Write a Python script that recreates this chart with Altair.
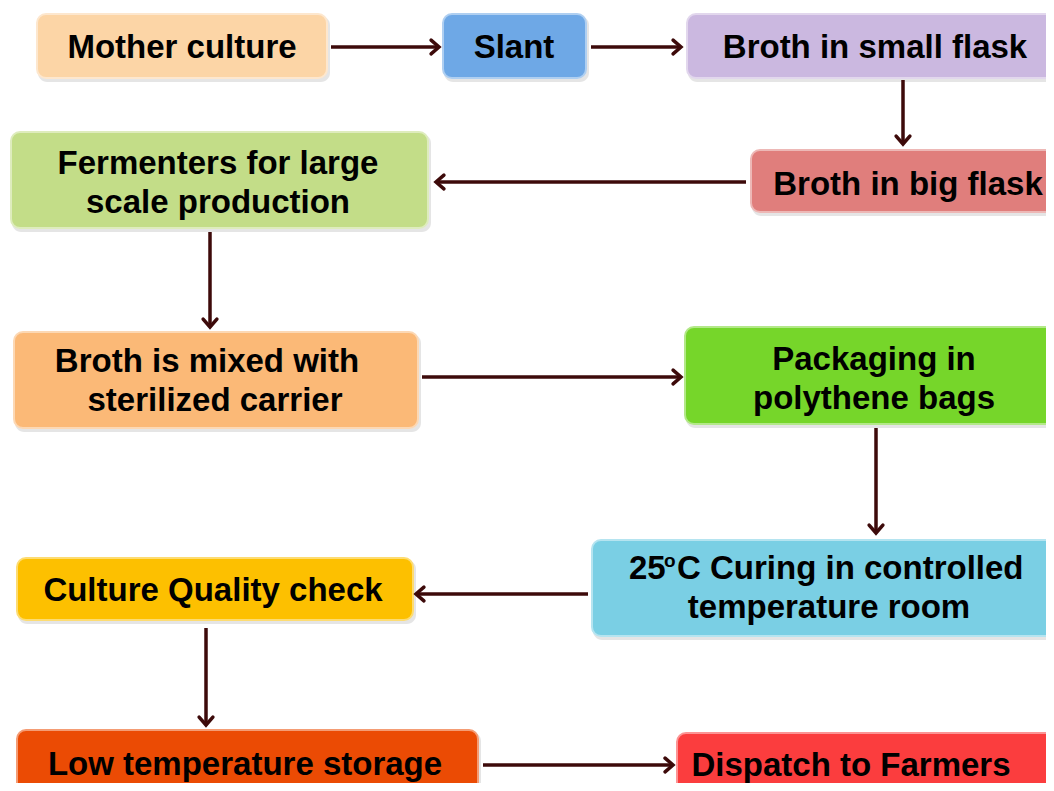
import altair as alt
import pandas as pd

# ---- boxes ----
box_names = ["Mother culture", "Slant", "Broth in small flask", "Broth in big flask",
             "Fermenters", "Broth mixed", "Packaging", "Curing", "Quality check",
             "Low temperature storage", "Dispatch to Farmers"]
box_x1 = [37, 443, 687, 751, 11, 14, 685, 592, 17, 17, 677]
box_x2 = [327, 586, 1060, 1060, 428, 418, 1060, 1060, 413, 478, 1060]
box_y1 = [14, 14, 14, 150, 132, 332, 327, 540, 558, 730, 733]
box_y2 = [78, 78, 78, 212, 228, 428, 424, 636, 620, 800, 800]
box_fill = ["#FCD5A6", "#6EA8E6", "#CBB8E0", "#E07E7C", "#C3DD88", "#FBB977",
            "#76D62A", "#7ACFE4", "#FDC000", "#EB4B04", "#FB3D3E"]

# ---- text lines (centered) ----
line_text = ["Mother culture", "Slant", "Broth in small flask", "Broth in big flask",
             "Fermenters for large", "scale production",
             "Broth is mixed with", "sterilized carrier",
             "Packaging in", "polythene bags",
             "temperature room",
             "Culture Quality check",
             "Low temperature storage", "Dispatch to Farmers"]
line_x = [182, 514, 875, 908, 218, 218, 207, 215, 874, 874, 829, 213, 245, 851]
line_y = [58, 58, 58, 195, 174, 213, 372, 411, 370, 409, 618, 601, 775, 776]

# ---- "25oC Curing in controlled" pieces (left aligned) ----
piece_text = ["25", "o", "C Curing in controlled"]
piece_x = [629, 664, 677]
piece_y = [579, 567, 579]
piece_size = [33, 19, 33]

# ---- arrows ----
arrow_x1 = [331, 591, 903, 746, 210, 422, 876, 588, 206, 483]
arrow_y1 = [47, 47, 80, 182, 232, 377, 428, 594, 628, 765]
arrow_x2 = [439, 681, 903, 436, 210, 681, 876, 416, 206, 673]
arrow_y2 = [47, 47, 144, 182, 327, 377, 533, 594, 725, 765]
arrow_angle = [0, 0, 90, 180, 90, 0, 90, 180, 90, 0]


def lighten(hex_color, f=0.45):
    h = hex_color.lstrip("#")
    r, g, b = (int(h[i:i + 2], 16) for i in (0, 2, 4))
    r, g, b = (int(c + (255 - c) * f) for c in (r, g, b))
    return f"#{r:02X}{g:02X}{b:02X}"


boxes = pd.DataFrame({"name": box_names, "x1": box_x1, "x2": box_x2,
                      "y1": box_y1, "y2": box_y2, "fill": box_fill,
                      "stroke": [lighten(c) for c in box_fill]})
lines = pd.DataFrame({"text": line_text, "x": line_x, "y": line_y})
pieces = pd.DataFrame({"text": piece_text, "x": piece_x, "y": piece_y, "size": piece_size})
arrows = pd.DataFrame({"x1": arrow_x1, "y1": arrow_y1, "x2": arrow_x2,
                       "y2": arrow_y2, "angle": arrow_angle})

W, H = 1038, 775
xs = alt.Scale(domain=[8, 8 + W], nice=False, zero=False)
ys = alt.Scale(domain=[8, 8 + H], nice=False, zero=False, reverse=True)
FONT = "Liberation Sans"
ARROW = "#3D0A0A"

shadow = alt.Chart(boxes).mark_rect(cornerRadius=9, color="#000000", opacity=0.10).encode(
    x=alt.X("sx1:Q", scale=xs, axis=None),
    x2="sx2:Q",
    y=alt.Y("sy1:Q", scale=ys, axis=None),
    y2="sy2:Q",
).transform_calculate(sx1="datum.x1+1", sx2="datum.x2+3", sy1="datum.y1+2", sy2="datum.y2+4")

rects = alt.Chart(boxes).mark_rect(cornerRadius=9, strokeWidth=2).encode(
    x=alt.X("x1:Q", scale=xs, axis=None),
    x2="x2:Q",
    y=alt.Y("y1:Q", scale=ys, axis=None),
    y2="y2:Q",
    color=alt.Color("fill:N", scale=None),
    stroke=alt.Stroke("stroke:N", scale=None),
)

shafts = alt.Chart(arrows).mark_rule(color=ARROW, strokeWidth=3.5).encode(
    x=alt.X("x1:Q", scale=xs, axis=None),
    x2="sx2:Q",
    y=alt.Y("y1:Q", scale=ys, axis=None),
    y2="sy2:Q",
).transform_calculate(
    sx2="datum.angle==0 ? datum.x2-2 : (datum.angle==180 ? datum.x2+2 : datum.x2)",
    sy2="datum.angle==90 ? datum.y2-2 : datum.y2",
)

heads = alt.Chart(arrows).mark_point(
    shape="M-1.15,-1L0,0L-1.15,1", filled=False, color=ARROW, strokeWidth=3.5,
    size=190, opacity=1, strokeCap="round", strokeJoin="miter",
).encode(
    x=alt.X("x2:Q", scale=xs, axis=None),
    y=alt.Y("y2:Q", scale=ys, axis=None),
    angle=alt.Angle("angle:Q", scale=None),
)

texts = alt.Chart(lines).mark_text(
    font=FONT, fontSize=33, fontWeight="bold", color="#000000",
    align="center", baseline="alphabetic",
).encode(
    x=alt.X("x:Q", scale=xs, axis=None),
    y=alt.Y("y:Q", scale=ys, axis=None),
    text="text:N",
)

piece_texts = alt.Chart(pieces).mark_text(
    font=FONT, fontWeight="bold", color="#000000",
    align="left", baseline="alphabetic",
).encode(
    x=alt.X("x:Q", scale=xs, axis=None),
    y=alt.Y("y:Q", scale=ys, axis=None),
    text="text:N",
    size=alt.Size("size:Q", scale=None),
)

chart = alt.layer(shadow, rects, shafts, heads, texts, piece_texts).properties(
    width=W, height=H, padding=0,
    autosize=alt.AutoSizeParams(type="none"),
    background="white",
).configure_view(stroke=None)

chart.save("out.html", embed_options={"renderer": "svg", "actions": False})
